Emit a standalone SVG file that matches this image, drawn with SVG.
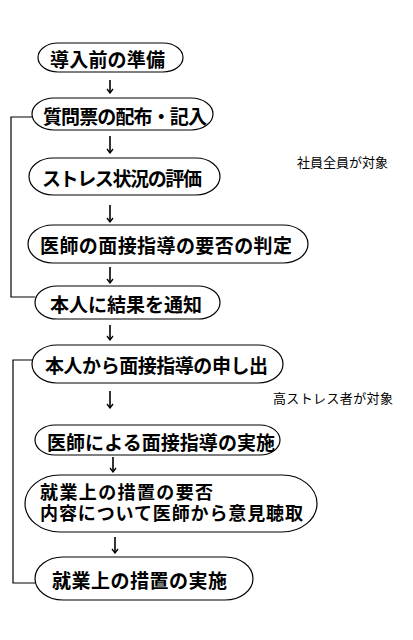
<svg xmlns="http://www.w3.org/2000/svg" width="413" height="640" viewBox="0 0 413 640">
<style>
.n{fill:#fff;stroke:#000;stroke-width:1.2}
.t{font-family:"Noto Sans CJK JP","Noto Sans CJK SC",sans-serif;font-size:19px;font-weight:bold;fill:#000;dominant-baseline:central}
.t2{font-size:18px}
.s{font-family:"Noto Sans CJK JP","Noto Sans CJK SC",sans-serif;font-size:13px;fill:#000;dominant-baseline:central}
.c{fill:none;stroke:#000;stroke-width:1.2}
.a{fill:none;stroke:#000;stroke-width:1.6;marker-end:url(#ah)}
</style>
<defs>
<marker id="ah" viewBox="0 0 8 8" refX="7" refY="4" markerWidth="8" markerHeight="8" markerUnits="userSpaceOnUse" orient="auto">
<path d="M3,1 L7,4 L3,7" fill="none" stroke="#000" stroke-width="1.3"/>
</marker>
</defs>
<rect width="413" height="640" fill="#fff"/>
<g id="connectors">
<polyline class="c" points="32,117 11,117 11,297 35,297"/>
<polyline class="c" points="32,360 13,360 13,583 35,583"/>
<line class="a" x1="110" y1="80" x2="110" y2="93"/>
<line class="a" x1="110" y1="136" x2="110" y2="153"/>
<line class="a" x1="110" y1="205" x2="110" y2="222"/>
<line class="a" x1="110" y1="267" x2="110" y2="283"/>
<line class="a" x1="110" y1="325" x2="110" y2="340"/>
<line class="a" x1="110" y1="391" x2="110" y2="408"/>
<line class="a" x1="113" y1="457" x2="113" y2="472"/>
<line class="a" x1="115" y1="537" x2="115" y2="553"/>
</g>
<g id="n1"><rect class="n" x="38" y="43" width="145" height="29" rx="20" ry="14.5"/><text class="t" x="50" y="58" textLength="115" lengthAdjust="spacing">導入前の準備</text></g>
<g id="n2"><rect class="n" x="32" y="98" width="181" height="32" rx="22" ry="16"/><text class="t" x="43" y="115" textLength="164" lengthAdjust="spacing">質問票の配布・記入</text></g>
<g id="n3"><rect class="n" x="29" y="158" width="191" height="37" rx="24" ry="18.5"/><text class="t" x="42" y="177" textLength="160" lengthAdjust="spacing">ストレス状況の評価</text></g>
<g id="n4"><rect class="n" x="28" y="225" width="280" height="38" rx="25" ry="19"/><text class="t" x="40" y="244" textLength="252" lengthAdjust="spacing">医師の面接指導の要否の判定</text></g>
<g id="n5"><rect class="n" x="35" y="286" width="185" height="33" rx="22" ry="16.5"/><text class="t" x="50" y="303" textLength="152" lengthAdjust="spacing">本人に結果を通知</text></g>
<g id="n6"><rect class="n" x="32" y="345" width="251" height="38" rx="25" ry="19"/><text class="t" x="45" y="364" textLength="223" lengthAdjust="spacing">本人から面接指導の申し出</text></g>
<g id="n7"><rect class="n" x="35" y="425" width="245" height="30" rx="20" ry="15"/><text class="t" x="47" y="441" textLength="228" lengthAdjust="spacing">医師による面接指導の実施</text></g>
<g id="n8"><rect class="n" x="25" y="475" width="292" height="57" rx="35" ry="28.5"/><text class="t t2" x="40" y="491" textLength="173" lengthAdjust="spacing">就業上の措置の要否</text><text class="t t2" x="40" y="512" textLength="263" lengthAdjust="spacing">内容について医師から意見聴取</text></g>
<g id="n9"><rect class="n" x="35" y="557" width="218" height="43" rx="28" ry="21.5"/><text class="t" x="52" y="579" textLength="175" lengthAdjust="spacing">就業上の措置の実施</text></g>
<g id="labels">
<text class="s" x="297" y="161" textLength="91" lengthAdjust="spacing">社員全員が対象</text>
<text class="s" x="273" y="397" textLength="120" lengthAdjust="spacing">高ストレス者が対象</text>
</g>
</svg>
